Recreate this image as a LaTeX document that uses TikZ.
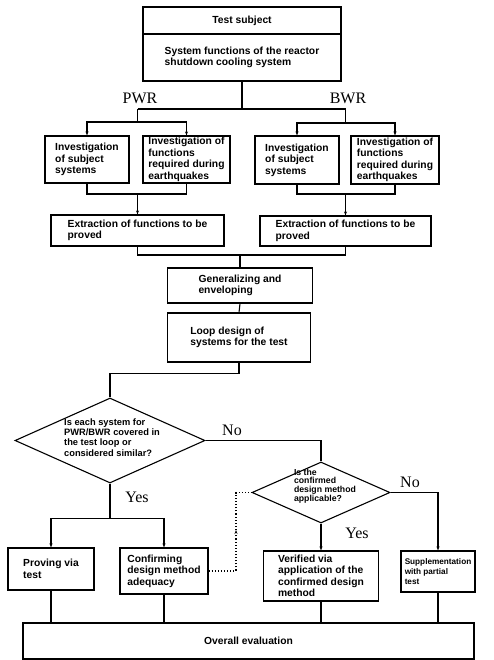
\documentclass[tikz,border=0pt]{standalone}
\usepackage{fontspec}
\setmainfont{Liberation Serif}
\setsansfont{Liberation Sans}
\usetikzlibrary{arrows.meta,shapes.geometric}

\begin{document}
\begin{tikzpicture}[x=1pt, y=-1pt,
        box/.style={draw, line width=1.1pt, inner sep=0pt, align=left,
            font=\sffamily\bfseries\fontsize{10.3}{11.5}\selectfont},
        smallbox/.style={box, font=\sffamily\bfseries\fontsize{8.2}{10}\selectfont},
        decision/.style={draw, diamond, line width=1.1pt, inner sep=0pt},
        qtext/.style={align=left, inner sep=0pt,
            font=\sffamily\bfseries\fontsize{9.3}{10.3}\selectfont},
        smallq/.style={qtext, font=\sffamily\bfseries\fontsize{8.7}{8.6}\selectfont},
        branch/.style={inner sep=0pt, font=\fontsize{16}{16}\selectfont},
        link/.style={line width=1.1pt},
        feed/.style={line width=1.1pt, -{Stealth[length=4pt,width=3pt]}},
        dotlink/.style={line width=1.1pt, dotted}]
        \useasboundingbox (0,0) rectangle (493,660);

        \node[box, minimum width=198, minimum height=27] (subj) at (242,20.5) {Test subject};
        \node[box, minimum width=198, minimum height=47] (sysfn) at (242,57.5) {System functions of the reactor\\shutdown cooling system};

        \node[branch] (pwr) at (140,98) {PWR};
        \node[branch] (bwr) at (348,98) {BWR};

        \node[box, minimum width=84, minimum height=47] (pinvsys) at (87,159.5) {Investigation\\of subject\\systems};
        \node[box, minimum width=87, minimum height=47] (pinvfn) at (186.5,159.5) {Investigation of\\functions\\required during\\earthquakes};
        \node[box, minimum width=173, minimum height=31] (pext) at (137.5,230.5) {Extraction of functions to be\\proved};

        \node[box, minimum width=84, minimum height=48] (binvsys) at (297,160) {Investigation\\of subject\\systems};
        \node[box, minimum width=88, minimum height=48] (binvfn) at (395,160) {Investigation of\\functions\\required during\\earthquakes};
        \node[box, minimum width=171, minimum height=30] (bext) at (345.5,231) {Extraction of functions to be\\proved};

        \node[box, minimum width=145, minimum height=35] (gen) at (240,285.5) {Generalizing and\\enveloping};
        \node[box, minimum width=143, minimum height=49] (loop) at (239,337.5) {Loop design of\\systems for the test};

        \node[decision, minimum width=190, minimum height=85] (covered) at (110,440.5) {};
        \node[qtext] (coveredq) at (112,437.5) {Is each system for\\PWR/BWR covered in\\the test loop or\\considered similar?};
        \node[decision, minimum width=138, minimum height=61] (applic) at (321,492.5) {};
        \node[smallq] (applicq) at (325,486) {Is the\\confirmed\\design method\\applicable?};

        \node[branch] (no1) at (232,430) {No};
        \node[branch] (yes1) at (137,497) {Yes};
        \node[branch] (no2) at (410,482) {No};
        \node[branch] (yes2) at (357,533) {Yes};

        \node[box, minimum width=86, minimum height=42] (proving) at (51,569) {Proving via\\test};
        \node[box, minimum width=88, minimum height=46] (confirm) at (164,571) {Confirming\\design method\\adequacy};
        \node[box, minimum width=115, minimum height=50] (verified) at (321,576) {Verified via\\application of the\\confirmed design\\method};
        \node[smallbox, minimum width=74, minimum height=41] (supp) at (438,571.5) {Supplementation\\with partial\\test};

        \node[box, minimum width=451, minimum height=36] (overall) at (248.5,641) {Overall evaluation};

        \coordinate (pwrsplit) at (137.5,109);
        \coordinate (bwrsplit) at (345.5,109);
        \coordinate (pjoin) at (137.5,194);
        \coordinate (bjoin) at (345.5,194);
        \coordinate (merge) at (240,255);
        \coordinate (dotmid) at (236,530);

        \draw[link] (sysfn.south) |- (pwrsplit);
        \draw[link] (sysfn.south) |- (bwrsplit);
        \draw[feed] (pwrsplit) -- ++(0,13) -| (pinvsys.north);
        \draw[feed] (pwrsplit) -- ++(0,13) -| (pinvfn.north);
        \draw[feed] (bwrsplit) -- ++(0,14) -| (binvsys.north);
        \draw[feed] (bwrsplit) -- ++(0,14) -| (binvfn.north);

        \draw[link] (pinvsys.south) |- (pjoin) -| (pinvfn.south);
        \draw[feed] (pjoin) -- (pext.north);
        \draw[link] (binvsys.south) |- (bjoin) -| (binvfn.south);
        \draw[feed] (bjoin) -- (bext.north);

        \draw[link] (pext.south) |- (merge);
        \draw[link] (bext.south) |- (merge);
        \draw[link] (merge) -- (gen.north);
        \draw[link] (gen.south) -- (loop.north);
        \draw[link] (loop.south) -- ++(0,11) -| (covered.north);

        \draw[link] (covered.east) -| (applic.north);
        \draw[link] (covered.south) -- ++(0,35) coordinate (yesjoin);
        \draw[feed] (yesjoin) -| (proving.north);
        \draw[feed] (yesjoin) -| (confirm.north);

        \draw[dotlink, -{Stealth[length=4pt,width=3pt]}] (confirm.east) -| (dotmid);
        \draw[dotlink] (dotmid) |- (applic.west);

        \draw[feed] (applic.south) -- (verified.north);
        \draw[feed] (applic.east) -| (supp.north);

        \draw[link] (proving.south) -- (proving.south |- overall.north);
        \draw[link] (confirm.south) -- (confirm.south |- overall.north);
        \draw[link] (verified.south) -- (verified.south |- overall.north);
        \draw[link] (supp.south) -- (supp.south |- overall.north);

        %\node at (246,700) {\Large Flow};
    \end{tikzpicture}
\end{document}
